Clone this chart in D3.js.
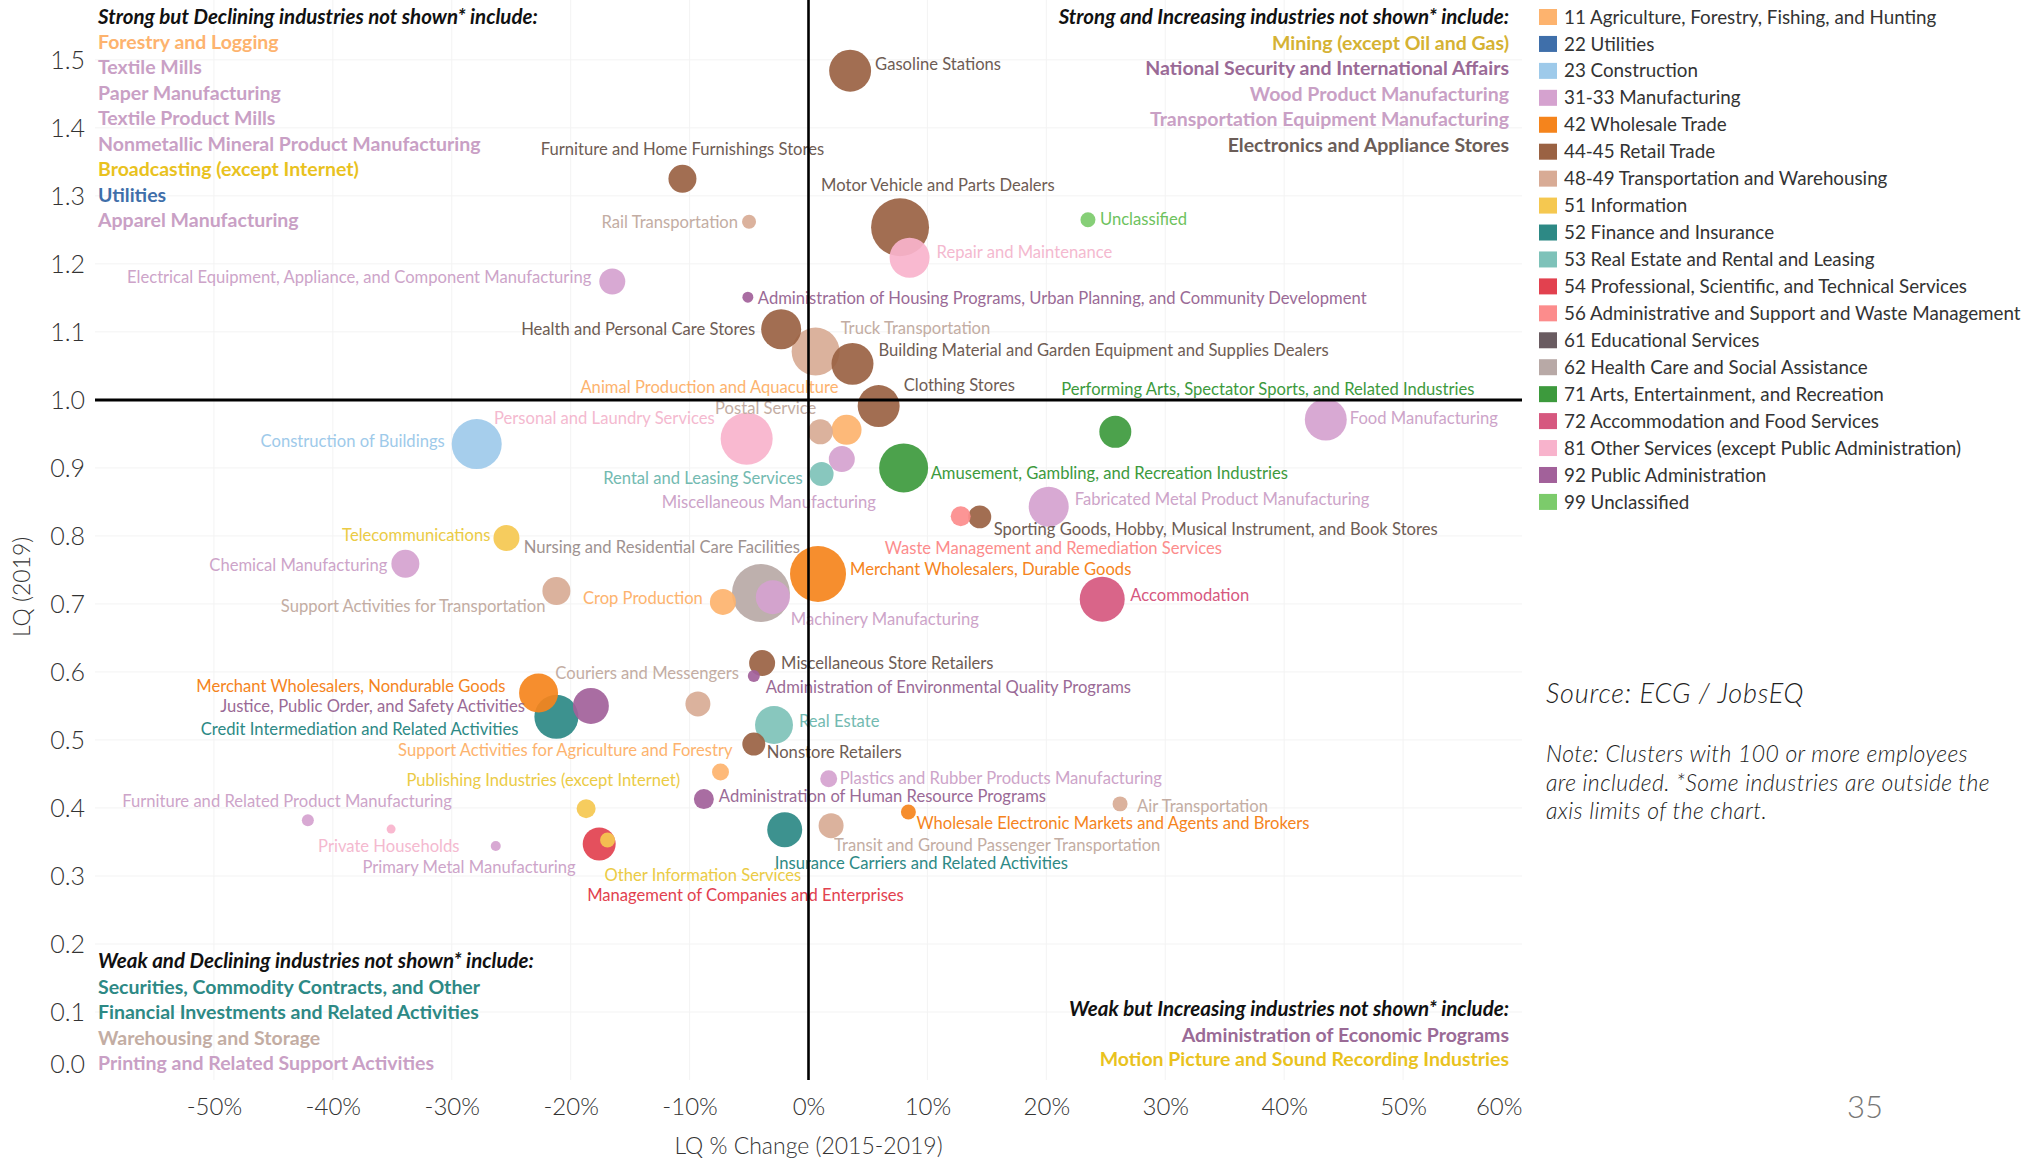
<!DOCTYPE html>
<html>
<head>
<meta charset="utf-8">
<script src="https://cdn.jsdelivr.net/npm/d3@7"></script>
<style>
  html, body { margin: 0; padding: 0; background: #fff; }
  svg { display: block; }
  text { font-family: Lato, "Open Sans", "Noto Sans", sans-serif; }
</style>
</head>
<body>
<svg id="chart" width="2028" height="1159"></svg>
<script>
// ---- Sectors (NAICS two-digit groups) ----
const sectorCodes = ["11", "22", "23", "31-33", "42", "44-45", "48-49", "51", "52", "53",
  "54", "56", "61", "62", "71", "72", "81", "92", "99", "21"];
const sectorNames = [
  "Agriculture, Forestry, Fishing, and Hunting", "Utilities", "Construction", "Manufacturing",
  "Wholesale Trade", "Retail Trade", "Transportation and Warehousing", "Information",
  "Finance and Insurance", "Real Estate and Rental and Leasing",
  "Professional, Scientific, and Technical Services", "Administrative and Support and Waste Management",
  "Educational Services", "Health Care and Social Assistance", "Arts, Entertainment, and Recreation",
  "Accommodation and Food Services", "Other Services (except Public Administration)",
  "Public Administration", "Unclassified", "Mining, Quarrying, and Oil and Gas Extraction"];
const legendCount = 19; // sector 21 only appears in the off-chart lists

// ---- Industries plotted as bubbles ----
const industries = [
  "Gasoline Stations", "Furniture and Home Furnishings Stores", "Rail Transportation",
  "Motor Vehicle and Parts Dealers", "Repair and Maintenance", "Unclassified",
  "Electrical Equipment, Appliance, and Component Manufacturing",
  "Administration of Housing Programs, Urban Planning, and Community Development",
  "Health and Personal Care Stores", "Truck Transportation",
  "Building Material and Garden Equipment and Supplies Dealers", "Clothing Stores", "Postal Service",
  "Animal Production and Aquaculture", "Miscellaneous Manufacturing", "Rental and Leasing Services",
  "Amusement, Gambling, and Recreation Industries", "Personal and Laundry Services",
  "Performing Arts, Spectator Sports, and Related Industries", "Food Manufacturing",
  "Construction of Buildings", "Fabricated Metal Product Manufacturing",
  "Waste Management and Remediation Services",
  "Sporting Goods, Hobby, Musical Instrument, and Book Stores", "Telecommunications",
  "Chemical Manufacturing", "Merchant Wholesalers, Durable Goods",
  "Nursing and Residential Care Facilities", "Machinery Manufacturing", "Crop Production",
  "Support Activities for Transportation", "Accommodation", "Miscellaneous Store Retailers",
  "Administration of Environmental Quality Programs", "Couriers and Messengers",
  "Merchant Wholesalers, Nondurable Goods", "Justice, Public Order, and Safety Activities",
  "Credit Intermediation and Related Activities", "Real Estate", "Nonstore Retailers",
  "Support Activities for Agriculture and Forestry", "Plastics and Rubber Products Manufacturing",
  "Administration of Human Resource Programs", "Publishing Industries (except Internet)",
  "Air Transportation", "Wholesale Electronic Markets and Agents and Brokers",
  "Insurance Carriers and Related Activities", "Transit and Ground Passenger Transportation",
  "Management of Companies and Enterprises", "Other Information Services",
  "Furniture and Related Product Manufacturing", "Private Households", "Primary Metal Manufacturing"];
const industrySector = [
  "44-45", "44-45", "48-49", "44-45", "81", "99", "31-33", "92", "44-45", "48-49",
  "44-45", "44-45", "48-49", "11", "31-33", "53", "71", "81", "71", "31-33",
  "23", "31-33", "56", "44-45", "51", "31-33", "42", "62", "31-33", "11",
  "48-49", "72", "44-45", "92", "48-49", "42", "92", "52", "53", "44-45",
  "11", "31-33", "92", "51", "48-49", "42", "52", "48-49", "54", "51",
  "31-33", "81", "31-33"];
// LQ % change 2015-2019 (fraction)
const lqChange = [
  0.035, -0.106, -0.050, 0.077, 0.085, 0.235, -0.165, -0.051, -0.023, 0.006,
  0.037, 0.059, 0.010, 0.032, 0.028, 0.011, 0.080, -0.052, 0.258, 0.435,
  -0.279, 0.202, 0.128, 0.144, -0.254, -0.339, 0.008, -0.040, -0.030, -0.072,
  -0.212, 0.247, -0.039, -0.046, -0.093, -0.227, -0.183, -0.212, -0.029, -0.046,
  -0.074, 0.017, -0.088, -0.187, 0.262, 0.084, -0.020, 0.019, -0.176, -0.169,
  -0.421, -0.351, -0.263];
// LQ 2019
const lq2019 = [
  1.484, 1.325, 1.262, 1.254, 1.209, 1.265, 1.174, 1.151, 1.104, 1.071,
  1.053, 0.991, 0.953, 0.956, 0.913, 0.891, 0.900, 0.943, 0.953, 0.971,
  0.935, 0.843, 0.829, 0.828, 0.797, 0.759, 0.744, 0.716, 0.710, 0.703,
  0.719, 0.707, 0.613, 0.594, 0.553, 0.569, 0.550, 0.534, 0.522, 0.494,
  0.453, 0.443, 0.413, 0.399, 0.406, 0.394, 0.368, 0.374, 0.347, 0.353,
  0.382, 0.369, 0.344];
// Employment (bubble size)
const employment = [
  2200, 980, 245, 4200, 2000, 280, 845, 150, 2000, 2880,
  2200, 2200, 780, 1125, 845, 720, 3000, 3380, 1280, 2200,
  3125, 2000, 500, 660, 845, 980, 3920, 4200, 1445, 845,
  980, 2530, 845, 180, 780, 1900, 1620, 2420, 1800, 660,
  360, 360, 500, 450, 280, 280, 1530, 780, 1360, 280,
  180, 100, 125];

// ---- Industries outside the axis limits, by quadrant ----
const strongDeclining = ["Forestry and Logging", "Textile Mills", "Paper Manufacturing",
  "Textile Product Mills", "Nonmetallic Mineral Product Manufacturing",
  "Broadcasting (except Internet)", "Utilities", "Apparel Manufacturing"];
const strongDecliningSector = ["11", "31-33", "31-33", "31-33", "31-33", "51", "22", "31-33"];
const strongIncreasing = ["Mining (except Oil and Gas)", "National Security and International Affairs",
  "Wood Product Manufacturing", "Transportation Equipment Manufacturing",
  "Electronics and Appliance Stores"];
const strongIncreasingSector = ["21", "92", "31-33", "31-33", "44-45"];
const weakDeclining = ["Securities, Commodity Contracts, and Other",
  "Financial Investments and Related Activities", "Warehousing and Storage",
  "Printing and Related Support Activities"];
const weakDecliningSector = ["52", "52", "48-49", "31-33"];
const weakIncreasing = ["Administration of Economic Programs",
  "Motion Picture and Sound Recording Industries"];
const weakIncreasingSector = ["92", "51"];

// ---- Axis ticks ----
const xTicks = [-0.5, -0.4, -0.3, -0.2, -0.1, 0, 0.1, 0.2, 0.3, 0.4, 0.5, 0.6];
const yTicks = [0, 0.1, 0.2, 0.3, 0.4, 0.5, 0.6, 0.7, 0.8, 0.9, 1.0, 1.1, 1.2, 1.3, 1.4, 1.5];

// ---- Styling ----
const fillColor = {
  "11": "#FDB36E", "22": "#3F6FAA", "23": "#9ECAEA", "31-33": "#D5A2CF", "42": "#F5841C",
  "44-45": "#9A6243", "48-49": "#D8AB95", "51": "#F5C850", "52": "#2D8985", "53": "#7EC2B9",
  "54": "#E2414F", "56": "#FC8C8C", "61": "#6A5C61", "62": "#B8A9A6", "71": "#3D9A3D",
  "72": "#D6587F", "81": "#F8B3CC", "92": "#A2619A", "99": "#7CCB6B", "21": "#D5B233"
};
const textColor = Object.assign({}, fillColor, {
  "44-45": "#6E5C54", "48-49": "#C3ADA3", "62": "#9E9290", "31-33": "#CDA4C9",
  "51": "#EBCB45", "81": "#F4B9CF", "92": "#9A6A96", "53": "#73BAB1", "99": "#6DC25D"
});
const listColor = Object.assign({}, textColor, { "31-33": "#C9A0C5", "51": "#E9C21E", "44-45": "#6B5D58" });

// label placement relative to each bubble: [dx, dy, anchor]
const labelPlacement = [
  [25, -7, "start"], [0, -30, "middle"], [-11, 0, "end"], [-79, -42, "start"], [27, -6, "start"],
  [12, 0, "start"], [-21, -4, "end"], [10, 1, "start"], [-26, 0, "end"], [25, -23, "start"],
  [26, -14, "start"], [25, -21, "start"], [-4, -24, "end"], [-8, -43, "end"], [-180, 43, "start"],
  [-19, 4, "end"], [27, 5, "start"], [-32, -20, "end"], [-54, -43, "start"], [24, -1, "start"],
  [-32, -3, "end"], [26, -7, "start"], [-76, 32, "start"], [14, 12, "start"], [-16, -3, "end"],
  [-18, 1, "end"], [32, -5, "start"], [39, -46, "end"], [18, 22, "start"], [-20, -4, "end"],
  [-11, 15, "end"], [28, -4, "start"], [19, 0, "start"], [12, 11, "start"], [41, -31, "end"],
  [-33, -7, "end"], [-66, 0, "end"], [-38, 12, "end"], [25, -4, "start"], [13, 8, "start"],
  [12, -22, "end"], [11, -1, "start"], [15, -3, "start"], [94, -28, "end"], [17, 2, "start"],
  [8, 11, "start"], [-10, 33, "start"], [3, 20, "start"], [-12, 51, "start"], [-3, 35, "start"],
  [144, -19, "end"], [-73, 17, "start"], [80, 21, "end"]];

const svg = d3.select("#chart");

const x = d3.scaleLinear().domain([-0.6, 0.6]).range([95, 1522]);
const y = d3.scaleLinear().domain([0, 1.588]).range([1080, 0]);
const r = d3.scaleSqrt().domain([0, 4500]).range([0, 30]);

// faint gridlines
const grid = svg.append("g").attr("stroke", "#f3f3f3").attr("stroke-width", 1);
grid.selectAll("line.gx").data(xTicks.filter(d => d !== 0 && d < 0.6)).join("line")
  .attr("x1", d => x(d)).attr("x2", d => x(d)).attr("y1", y(1.588)).attr("y2", y(0));
grid.selectAll("line.gy").data(yTicks.filter(d => d !== 1 && d > 0)).join("line")
  .attr("x1", x(-0.6)).attr("x2", x(0.6)).attr("y1", d => y(d)).attr("y2", d => y(d));

// axes
const xAxis = svg.append("g").attr("transform", `translate(0,${y(0)})`)
  .call(d3.axisBottom(x).tickValues(xTicks).tickSize(0).tickPadding(18)
    .tickFormat(d => Math.round(d * 100) + "%"));
xAxis.select(".domain").remove();
xAxis.selectAll("text").attr("font-family", "Lato, sans-serif").attr("font-weight", 300)
  .attr("font-size", 24).attr("fill", "#333")
  .attr("text-anchor", d => d === 0.6 ? "end" : "middle");

const yAxis = svg.append("g").attr("transform", `translate(${x(-0.6) - 10},0)`)
  .call(d3.axisLeft(y).tickValues(yTicks).tickSize(0).tickPadding(0).tickFormat(d3.format(".1f")));
yAxis.select(".domain").remove();
yAxis.selectAll("text").attr("font-family", "Lato, sans-serif").attr("font-weight", 300)
  .attr("font-size", 25).attr("fill", "#333")
  .attr("dy", d => d === 0 ? "-0.3em" : "0.34em");

svg.append("text").attr("x", x(0)).attr("y", 1154).attr("text-anchor", "middle")
  .attr("font-weight", 300).attr("font-size", 23).attr("fill", "#333").text("LQ % Change (2015-2019)");
svg.append("text").attr("transform", `translate(30,${(y(0.8) + y(0.65)) / 2}) rotate(-90)`)
  .attr("text-anchor", "middle").attr("font-weight", 300).attr("font-size", 23).attr("fill", "#333")
  .text("LQ (2019)");

// bubbles
const points = industries.map((name, i) => ({
  name, sector: industrySector[i], change: lqChange[i], lq: lq2019[i], emp: employment[i],
  place: labelPlacement[i]
}));
const drawOrder = points.slice().sort((a, b) => b.emp - a.emp);

svg.append("g").selectAll("circle").data(drawOrder).join("circle")
  .attr("cx", d => x(d.change)).attr("cy", d => y(d.lq)).attr("r", d => r(d.emp))
  .attr("fill", d => fillColor[d.sector]).attr("fill-opacity", 0.92);

svg.append("g").selectAll("text").data(points).join("text")
  .attr("x", d => x(d.change) + d.place[0]).attr("y", d => y(d.lq) + d.place[1])
  .attr("dy", "0.35em").attr("text-anchor", d => d.place[2])
  .attr("font-size", 16.6).attr("fill", d => textColor[d.sector]).text(d => d.name);

// quadrant dividers
svg.append("line").attr("x1", x(-0.6)).attr("x2", x(0.6)).attr("y1", y(1)).attr("y2", y(1))
  .attr("stroke", "#000").attr("stroke-width", 3);
svg.append("line").attr("x1", x(0)).attr("x2", x(0)).attr("y1", y(1.588)).attr("y2", y(0))
  .attr("stroke", "#000").attr("stroke-width", 2.6);

// off-chart lists
function quadrantList(title, names, codes, xPos, titleY, firstY, step, anchor) {
  const g = svg.append("g").attr("text-anchor", anchor);
  g.append("text").attr("x", xPos).attr("y", titleY).attr("dy", "0.35em")
    .attr("font-size", 20.5).attr("font-weight", 700).attr("font-style", "italic")
    .attr("fill", "#111").text(title);
  g.selectAll("text.item").data(names).join("text").attr("class", "item")
    .attr("x", xPos).attr("y", (d, i) => firstY + i * step).attr("dy", "0.35em")
    .attr("font-size", 19.5).attr("font-weight", 700)
    .attr("fill", (d, i) => listColor[codes[i]]).text(d => d);
}
quadrantList("Strong but Declining industries not shown* include:", strongDeclining,
  strongDecliningSector, 98, 17, 42, 25.5, "start");
quadrantList("Strong and Increasing industries not shown* include:", strongIncreasing,
  strongIncreasingSector, 1509, 17, 43, 25.5, "end");
quadrantList("Weak and Declining industries not shown* include:", weakDeclining,
  weakDecliningSector, 98, 961, 987, 25.4, "start");
quadrantList("Weak but Increasing industries not shown* include:", weakIncreasing,
  weakIncreasingSector, 1509, 1009, 1035, 24.5, "end");

// legend
const legend = svg.append("g").attr("transform", "translate(1539,17)");
const rows = legend.selectAll("g").data(sectorCodes.slice(0, legendCount)).join("g")
  .attr("transform", (d, i) => `translate(0,${i * 26.94})`);
rows.append("rect").attr("x", 0).attr("y", -8).attr("width", 18).attr("height", 16)
  .attr("fill", d => fillColor[d]);
rows.append("text").attr("x", 25).attr("y", 0).attr("dy", "0.35em").attr("font-size", 18.8)
  .attr("fill", "#333").text((d, i) => d + " " + sectorNames[i]);

// source and note
const note = svg.append("g").attr("font-weight", 300).attr("font-style", "italic").attr("fill", "#222");
note.append("text").attr("x", 1546).attr("y", 694).attr("dy", "0.35em").attr("font-size", 27)
  .attr("letter-spacing", 0.8).text("Source: ECG / JobsEQ");
["Note: Clusters with 100 or more employees", "are included. *Some industries are outside the",
  "axis limits of the chart."].forEach((t, i) => {
  note.append("text").attr("x", 1546).attr("y", 754 + i * 28.5).attr("dy", "0.35em")
    .attr("font-size", 23).attr("letter-spacing", 0.4).text(t);
});

svg.append("text").attr("x", 1865).attr("y", 1107).attr("dy", "0.35em").attr("text-anchor", "middle")
  .attr("font-weight", 300).attr("font-size", 31).attr("fill", "#777").text("35");
</script>
</body>
</html>
